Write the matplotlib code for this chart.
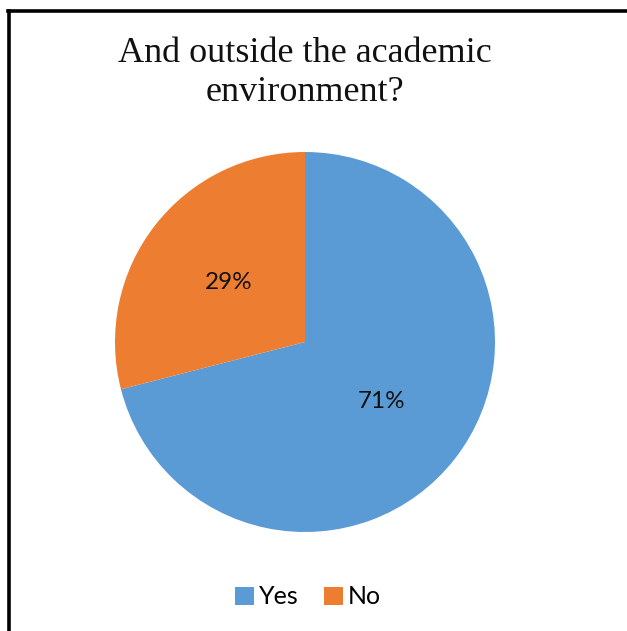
import matplotlib.pyplot as plt
from matplotlib.lines import Line2D
from matplotlib.patches import Patch

labels = ['Yes', 'No']
values = [71, 29]
colors = ['#5b9bd5', '#ed7d31']

W, H = 627, 631
fig = plt.figure(figsize=(W / 100, H / 100), dpi=100)

# pie centre ~ (305, 342) px, radius ~190 px
cx, cy, r = 305, 342, 190
ax = fig.add_axes([(cx - r) / W, (H - cy - r) / H, 2 * r / W, 2 * r / H])
ax.pie(values, colors=colors, startangle=90, counterclock=False,
       autopct='%d%%', pctdistance=0.51, radius=1,
       textprops={'family': 'Lato', 'fontsize': 17.5, 'color': '#111111'},
       wedgeprops={'linewidth': 0})
ax.set_xlim(-1, 1)
ax.set_ylim(-1, 1)
ax.set_aspect('equal')
ax.axis('off')

fig.text(305 / W, 1 - 62 / H, 'And outside the academic', ha='center', va='baseline',
         family='Liberation Serif', fontsize=26, color='#111111')
fig.text(305 / W, 1 - 101 / H, 'environment?', ha='center', va='baseline',
         family='Liberation Serif', fontsize=26, color='#111111')

handles = [Patch(facecolor=c, edgecolor='none') for c in colors]
fig.legend(handles, labels, loc='center', bbox_to_anchor=(308 / W, 1 - 597 / H),
           ncol=2, frameon=False, handlelength=0.75, handleheight=0.75,
           handletextpad=0.2, columnspacing=1.0,
           prop={'family': 'Lato', 'size': 18})

# frame lines (top and left only, as in the source crop)
fig.add_artist(Line2D([8 / W, 1], [1 - 11 / H, 1 - 11 / H], color='black', lw=2.6,
                      transform=fig.transFigure))
fig.add_artist(Line2D([9 / W, 9 / W], [1 - 11 / H, 0], color='black', lw=2.6,
                      transform=fig.transFigure))

fig.savefig('out.png', dpi=100)
